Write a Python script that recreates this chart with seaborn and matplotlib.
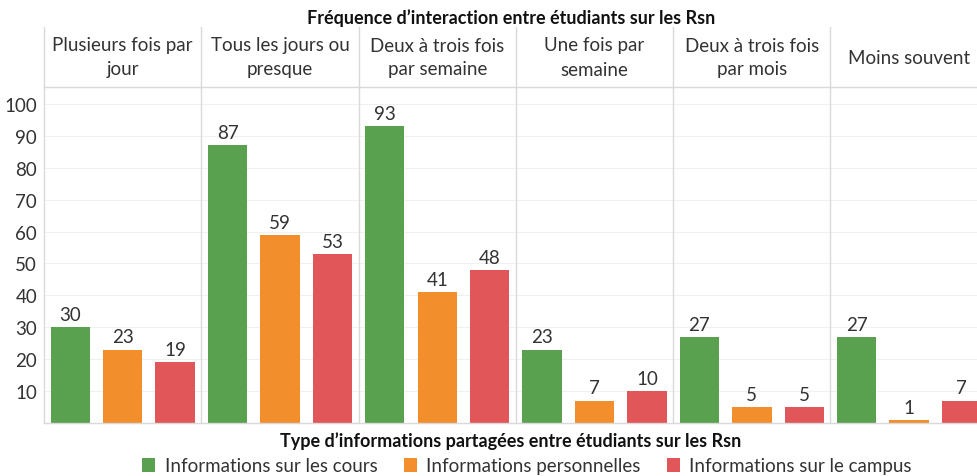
import matplotlib
matplotlib.use("Agg")
import matplotlib.pyplot as plt
import seaborn as sns
import pandas as pd
from matplotlib.patches import Patch

frequences = ["Plusieurs fois par\njour", "Tous les jours ou\npresque", "Deux à trois fois\npar semaine",
              "Une fois par\nsemaine", "Deux à trois fois\npar mois", "Moins souvent"]
types = ["Informations sur les cours", "Informations personnelles", "Informations sur le campus"]
cours = [30, 87, 93, 23, 27, 27]
personnelles = [23, 59, 41, 7, 5, 1]
campus = [19, 53, 48, 10, 5, 7]
yticks = [10, 20, 30, 40, 50, 60, 70, 80, 90, 100]
colors = ["#59A14F", "#F28E2B", "#E15759"]

rows = []
for i, f in enumerate(frequences):
    for t, vals in zip(types, [cours, personnelles, campus]):
        rows.append({"freq": f, "type": t, "val": vals[i]})
df = pd.DataFrame(rows)

sns.set_style("white")
plt.rcParams['font.family'] = ['Lato', 'DejaVu Sans']

FS = 13.5
PW = 157.3  # panel width in px
X0 = 44
fig = plt.figure(figsize=(9.78, 4.77), dpi=100)
ax = fig.add_axes([X0/978, 1-424/477, 6*PW/978, (424-88)/477])

sns.barplot(data=df, x="freq", y="val", hue="type", order=frequences, hue_order=types,
            palette=colors, width=1.0, gap=0.25, ax=ax, legend=False, saturation=1,
            edgecolor="none")

for cont in ax.containers:
    ax.bar_label(cont, fmt="%d", padding=3, fontsize=FS, color="#333333")

ax.set_xlim(-0.5, 5.5)
ax.set_ylim(0, 105.3)
ax.set_yticks(yticks)
ax.set_yticklabels([str(v) for v in yticks], fontsize=FS, color="#333333")
ax.tick_params(axis="y", length=0, pad=5)
ax.set_xticks([])
ax.set_xlabel("")
ax.set_ylabel("")
for y in yticks:
    ax.axhline(y, color="#f0f0f0", lw=0.8, zorder=0)
for x in [0.5, 1.5, 2.5, 3.5, 4.5]:
    ax.axvline(x, color="#d9d9d9", lw=1, zorder=0)
for s in ["top", "right"]:
    ax.spines[s].set_visible(False)
for s in ["left", "bottom"]:
    ax.spines[s].set_color("#d9d9d9")
    ax.spines[s].set_linewidth(1)

# header
for i, f in enumerate(frequences):
    xc = (X0 + PW * (i + 0.5)) / 978
    fig.text(xc, 1-58/477, f, ha="center", va="center", fontsize=FS, color="#333333",
             linespacing=1.5)
line_kw = dict(color="#d9d9d9", lw=1, transform=fig.transFigure)
for i in range(6):
    xx = (X0 + PW * i) / 978
    fig.add_artist(plt.Line2D([xx, xx], [1-28/477, 1-88/477], **line_kw))
fig.add_artist(plt.Line2D([X0/978, 1.0], [1-88/477, 1-88/477], **line_kw))

fig.text(511/978, 1-18/477, "Fréquence d\u2019interaction entre étudiants sur les Rsn",
         ha="center", va="center", fontsize=13, fontweight="bold", color="#111111")
fig.text(511/978, 1-441/477, "Type d\u2019informations partagées entre étudiants sur les Rsn",
         ha="center", va="center", fontsize=13, fontweight="bold", color="#111111")

handles = [Patch(facecolor=c, edgecolor="none") for c in colors]
fig.legend(handles, types, loc="center", bbox_to_anchor=(527/978, 1-467/477), ncol=3,
           frameon=False, fontsize=FS, handlelength=0.7, handleheight=0.7,
           handletextpad=0.5, columnspacing=1.4, labelcolor="#333333")

fig.savefig("out.png", dpi=100)
